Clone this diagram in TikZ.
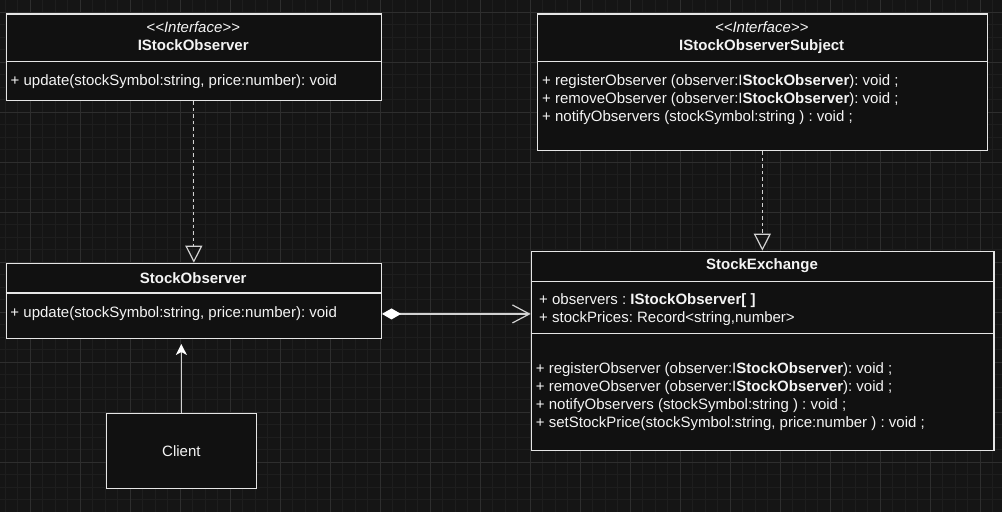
\documentclass[tikz,border=0pt]{standalone}
\usepackage{fontspec}
\setmainfont{Liberation Sans}[Ligatures=TeXOff]
\usetikzlibrary{arrows.meta}
\definecolor{bgc}{HTML}{151515}
\definecolor{gridminor}{HTML}{1E1E1E}
\definecolor{gridmajor}{HTML}{2E2E2E}
\definecolor{boxfill}{HTML}{111111}
\definecolor{boxline}{HTML}{E6E6E6}
\definecolor{linec}{HTML}{D2D2D2}
\definecolor{txtc}{HTML}{F4F4F4}
\frenchspacing
\begin{document}
\begin{tikzpicture}[x=1bp,y=-1bp,
  umlbox/.style={draw=boxline, fill=boxfill, line width=1.3bp, rectangle, inner sep=0pt, anchor=north west},
  sepline/.style={draw=boxline, line width=1.3bp},
  txt/.style={text=txtc, inner sep=0pt, font=\fontsize{15bp}{18bp}\selectfont\frenchspacing, text height=13bp, text depth=1bp},
  lefttxt/.style={txt, anchor=west},
  realize/.style={draw=linec, line width=1.2bp, dash pattern=on 3.5bp off 3bp, -{Triangle[open, length=17bp, width=17bp]}},
  compose/.style={draw=linec, line width=1.2bp, {Diamond[length=19bp, width=11bp, fill=white, color=white]}-{Straight Barb[length=17bp, width=18bp]}},
  assoc/.style={draw=linec, line width=1.2bp, -{Stealth[length=11bp, width=11bp, inset=3bp, color=white]}}
]
\useasboundingbox (0,0) rectangle (1002,512);
\fill[bgc] (0,0) rectangle (1002,512);
% grid
\foreach \x in {5,17.5,...,1002} \draw[gridminor, line width=0.8bp] (\x,0) -- (\x,512);
\foreach \y in {-0.5,12,...,512} \draw[gridminor, line width=0.8bp] (0,\y) -- (1002,\y);
\foreach \x in {30,80,...,1002} \draw[gridmajor, line width=0.9bp] (\x,0) -- (\x,512);
\foreach \y in {12,62,...,512} \draw[gridmajor, line width=0.9bp] (0,\y) -- (1002,\y);

% IStockObserver
\node[umlbox, minimum width=375bp, minimum height=86.7bp] (iso) at (5.7,13.3) {};
\draw[sepline] (5.7,61.7) -- (380.7,61.7);
\node[txt] (isoS) at (193.2,26.7) {\itshape \textless\kern0pt\textless Interface\textgreater\kern0pt\textgreater};
\node[txt] (isoT) at (193.2,45) {\textbf{IStockObserver}};
\node[lefttxt] (isoM) at (10.5,79.5) {+ update(stockSymbol:string, price:number): void};

% IStockObserverSubject
\node[umlbox, minimum width=450bp, minimum height=136.7bp] (isos) at (536.7,13.3) {};
\draw[sepline] (536.7,61.7) -- (986.7,61.7);
\node[txt] (isosS) at (761.7,26.7) {\itshape \textless\kern0pt\textless Interface\textgreater\kern0pt\textgreater};
\node[txt] (isosT) at (761.7,45) {\textbf{IStockObserverSubject}};
\node[lefttxt] (isosM1) at (542,79.3) {+ registerObserver (observer:I\textbf{StockObserver}): void ;};
\node[lefttxt] (isosM2) at (542,97.3) {+ removeObserver (observer:I\textbf{StockObserver}): void ;};
\node[lefttxt] (isosM3) at (542,115.5) {+ notifyObservers (stockSymbol:string ) : void ;};

% StockObserver
\node[umlbox, minimum width=375bp, minimum height=75bp] (so) at (5.7,262.7) {};
\draw[sepline] (5.7,293) -- (380.7,293);
\node[txt] (soT) at (193.2,277.3) {\textbf{StockObserver}};
\node[lefttxt] (soM) at (10.3,311.5) {+ update(stockSymbol:string, price:number): void};

% StockExchange
\node[umlbox, minimum width=462.6bp, minimum height=199.3bp] (se) at (530.7,250.7) {};
\draw[sepline] (530.7,281.7) -- (993.3,281.7);
\draw[sepline] (530.7,333.3) -- (993.3,333.3);
\node[txt] (seT) at (762,264) {\textbf{StockExchange}};
\node[lefttxt] (seA1) at (539,298.5) {+ observers : \textbf{IStockObserver[ ]}};
\node[lefttxt] (seA2) at (539,316.3) {+ stockPrices: Record\textless string,number\textgreater};
\node[lefttxt] (seM1) at (535.7,367.5) {+ registerObserver (observer:I\textbf{StockObserver}): void ;};
\node[lefttxt] (seM2) at (535.7,385.5) {+ removeObserver (observer:I\textbf{StockObserver}): void ;};
\node[lefttxt] (seM3) at (535.7,403.8) {+ notifyObservers (stockSymbol:string ) : void ;};
\node[lefttxt] (seM4) at (535.7,421.8) {+ setStockPrice(stockSymbol:string, price:number ) : void ;};

% Client
\node[umlbox, txt, draw=boxline, fill=boxfill, line width=1.3bp, anchor=north west, minimum width=150bp, minimum height=75bp] (cl) at (105.7,412.7) {Client};

% connectors
\draw[realize] (iso.south) -- (so.north);
\draw[realize] (isos.south) -- (isos.south |- se.north);
\path ([yshift=-13.1bp]so.east) coordinate (ca);
\draw[compose] (ca) -- (ca -| se.west);
\draw[assoc, shorten >=5bp] (cl.north) -- (cl.north |- so.south);
\end{tikzpicture}
\end{document}
